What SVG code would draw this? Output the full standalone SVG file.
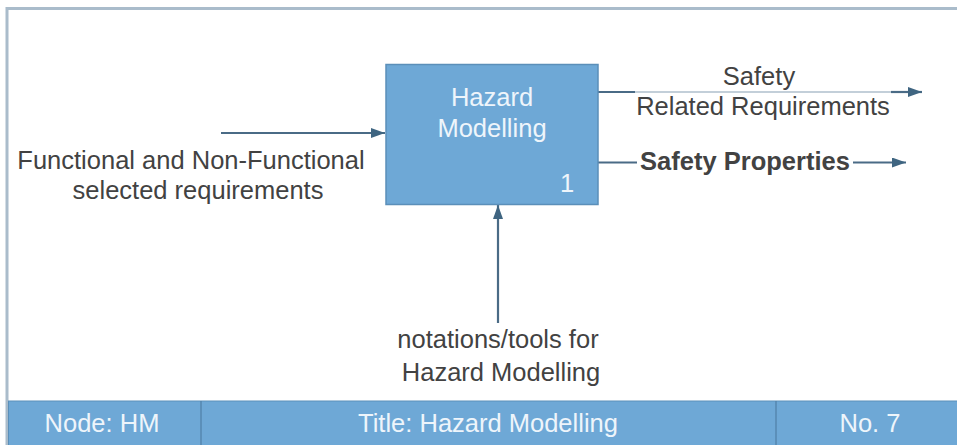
<svg xmlns="http://www.w3.org/2000/svg" width="957" height="445" viewBox="0 0 957 445">
<defs>
<marker id="arr" viewBox="0 0 14 10" refX="14" refY="5" markerWidth="14" markerHeight="10" orient="auto" markerUnits="userSpaceOnUse">
<path d="M0,0 L14,5 L0,10 z" fill="#3f6581"/>
</marker>
<style>
.lbl{font-family:"Liberation Sans",Arial,sans-serif;font-size:25.5px;fill:#424242;text-anchor:middle}
.wt{font-family:"Liberation Sans",Arial,sans-serif;font-size:25.5px;fill:#eef5fb;text-anchor:middle}
.conn{stroke:#4a6b86;stroke-width:2.2;fill:none}
.faint{stroke:#c3cfd9;stroke-width:2;fill:none}
</style>
</defs>
<rect x="0" y="0" width="957" height="445" fill="#ffffff"/>
<g id="frame">
<path d="M7,445 V8.5 H957" fill="none" stroke="#aabccb" stroke-width="3"/>
<rect x="8.5" y="401" width="950" height="45" fill="#6ea8d6" stroke="#5b8fb9" stroke-width="1"/>
<line x1="201" y1="401" x2="201" y2="445" stroke="#4f7fa6" stroke-width="1.2"/>
<line x1="776" y1="401" x2="776" y2="445" stroke="#4f7fa6" stroke-width="1.2"/>
<text class="wt" x="102" y="432">Node: HM</text>
<text class="wt" x="488" y="432">Title: Hazard Modelling</text>
<text class="wt" x="870" y="432">No. 7</text>
</g>
<g id="connectors">
<line class="conn" x1="221" y1="133" x2="385" y2="133" marker-end="url(#arr)"/>
<line class="faint" x1="634" y1="92" x2="892" y2="92"/>
<line class="conn" x1="598" y1="92" x2="635" y2="92"/>
<line class="conn" x1="891" y1="92" x2="922" y2="92" marker-end="url(#arr)"/>
<line class="conn" x1="598" y1="162.5" x2="637" y2="162.5"/>
<line class="conn" x1="853" y1="162.5" x2="906" y2="162.5" marker-end="url(#arr)"/>
<line class="conn" x1="498" y1="323" x2="498" y2="205" marker-end="url(#arr)"/>
</g>
<g id="node-hm">
<rect x="386" y="64.5" width="212" height="140" fill="#6ea8d6" stroke="#5b8fb9" stroke-width="1.5"/>
<text class="wt" x="492" y="106">Hazard</text>
<text class="wt" x="492" y="137">Modelling</text>
<text class="wt" x="567" y="192">1</text>
</g>
<g id="labels">
<text class="lbl" x="191" y="169">Functional and Non-Functional</text>
<text class="lbl" x="198" y="199">selected requirements</text>
<text class="lbl" x="759" y="85">Safety</text>
<text class="lbl" x="763" y="115">Related Requirements</text>
<text class="lbl" x="745" y="170" font-weight="bold" font-size="26px">Safety Properties</text>
<text class="lbl" x="498" y="348">notations/tools for</text>
<text class="lbl" x="501" y="381">Hazard Modelling</text>
</g>
</svg>
